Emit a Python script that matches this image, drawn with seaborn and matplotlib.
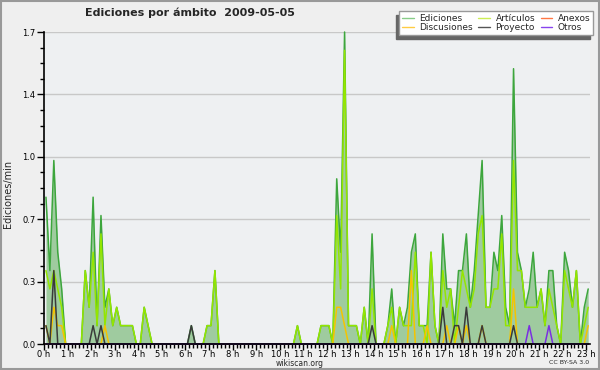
import numpy as np
import matplotlib
matplotlib.use("Agg")
import matplotlib.pyplot as plt
import seaborn as sns
from matplotlib.lines import Line2D
from matplotlib.patches import Rectangle
from matplotlib.ticker import FixedLocator, MultipleLocator

# Edits per minute, 10-minute bins, one row per hour (2009-05-05)
ediciones = [
    0.8, 0.4, 1.0, 0.5, 0.3, 0.0,   # 0 h
    0.0, 0.0, 0.0, 0.0, 0.4, 0.2,   # 1 h
    0.8, 0.1, 0.7, 0.2, 0.3, 0.1,   # 2 h
    0.2, 0.1, 0.1, 0.1, 0.1, 0.0,   # 3 h
    0.0, 0.2, 0.1, 0.0, 0.0, 0.0,   # 4 h
    0.0, 0.0, 0.0, 0.0, 0.0, 0.0,   # 5 h
    0.0, 0.1, 0.0, 0.0, 0.0, 0.1,   # 6 h
    0.1, 0.4, 0.0, 0.0, 0.0, 0.0,   # 7 h
    0.0, 0.0, 0.0, 0.0, 0.0, 0.0,   # 8 h
    0.0, 0.0, 0.0, 0.0, 0.0, 0.0,   # 9 h
    0.0, 0.0, 0.0, 0.0, 0.1, 0.0,   # 10 h
    0.0, 0.0, 0.0, 0.0, 0.1, 0.1,   # 11 h
    0.1, 0.0, 0.9, 0.5, 1.7, 0.1,   # 12 h
    0.1, 0.1, 0.0, 0.2, 0.0, 0.6,   # 13 h
    0.0, 0.0, 0.0, 0.1, 0.3, 0.0,   # 14 h
    0.2, 0.1, 0.2, 0.5, 0.6, 0.1,   # 15 h
    0.1, 0.1, 0.5, 0.1, 0.0, 0.6,   # 16 h
    0.3, 0.3, 0.1, 0.4, 0.4, 0.6,   # 17 h
    0.2, 0.4, 0.7, 1.0, 0.2, 0.2,   # 18 h
    0.5, 0.4, 0.7, 0.2, 0.1, 1.5,   # 19 h
    0.5, 0.4, 0.2, 0.3, 0.5, 0.2,   # 20 h
    0.3, 0.1, 0.4, 0.4, 0.1, 0.0,   # 21 h
    0.5, 0.4, 0.2, 0.4, 0.0, 0.2,   # 22 h
    0.3,                            # 23 h
]

articulos = [
    0.4, 0.3, 0.4, 0.3, 0.2, 0.0,
    0.0, 0.0, 0.0, 0.0, 0.4, 0.2,
    0.5, 0.1, 0.6, 0.1, 0.3, 0.1,
    0.2, 0.1, 0.1, 0.1, 0.1, 0.0,
    0.0, 0.2, 0.1, 0.0, 0.0, 0.0,
    0.0, 0.0, 0.0, 0.0, 0.0, 0.0,
    0.0, 0.0, 0.0, 0.0, 0.0, 0.1,
    0.1, 0.4, 0.0, 0.0, 0.0, 0.0,
    0.0, 0.0, 0.0, 0.0, 0.0, 0.0,
    0.0, 0.0, 0.0, 0.0, 0.0, 0.0,
    0.0, 0.0, 0.0, 0.0, 0.1, 0.0,
    0.0, 0.0, 0.0, 0.0, 0.1, 0.1,
    0.1, 0.0, 0.7, 0.3, 1.6, 0.1,
    0.1, 0.1, 0.0, 0.2, 0.0, 0.3,
    0.0, 0.0, 0.0, 0.1, 0.2, 0.0,
    0.2, 0.1, 0.1, 0.1, 0.5, 0.1,
    0.1, 0.0, 0.5, 0.1, 0.0, 0.4,
    0.2, 0.3, 0.0, 0.2, 0.4, 0.3,
    0.2, 0.3, 0.6, 0.7, 0.2, 0.2,
    0.3, 0.3, 0.6, 0.1, 0.1, 1.0,
    0.4, 0.4, 0.2, 0.2, 0.2, 0.2,
    0.3, 0.1, 0.3, 0.2, 0.1, 0.0,
    0.4, 0.3, 0.2, 0.4, 0.0, 0.1,
    0.2,
]

# sparse series: bin number -> value
disc_bins = [0, 2, 3, 4, 15, 74, 75, 76, 88, 93, 97, 102, 105, 107, 111, 119, 138]
disc_vals = [0.1, 0.2, 0.1, 0.1, 0.1, 0.2, 0.2, 0.1, 0.1, 0.4, 0.1, 0.1, 0.1, 0.1, 0.1, 0.3, 0.1]
proy_bins = [0, 2, 12, 14, 37, 83, 101, 104, 105, 107, 111, 119]
proy_vals = [0.1, 0.4, 0.1, 0.1, 0.1, 0.1, 0.2, 0.1, 0.1, 0.2, 0.1, 0.1]
otros_bins = [123, 128]
otros_vals = [0.1, 0.1]
anexos_bins = []
anexos_vals = []

hour_labels = [f"{h} h" for h in range(24)]
y_max = 1.7

n = len(ediciones)
hours = (np.arange(n) + 0.5) / 6


def sparse(bins, vals):
    s = np.zeros(n)
    s[bins] = vals
    return s


discusiones = sparse(disc_bins, disc_vals)
proyecto = sparse(proy_bins, proy_vals)
otros = sparse(otros_bins, otros_vals)
anexos = sparse(anexos_bins, anexos_vals)

sns.set_style("white")
plt.rcParams["font.family"] = ["DejaVu Sans"]

fig = plt.figure(figsize=(6, 3.7), dpi=100, facecolor="#efefef")
ax = fig.add_axes([44 / 600, 26 / 370, 546 / 600, 312 / 370])
ax.set_facecolor("#eef0f2")

ax.fill_between(hours, ediciones, color="#9fcb9f", lw=0, zorder=2)
series = [
    (ediciones, "#3da63d"),
    (articulos, "#94e600"),
    (anexos, "#ff7744"),
    (discusiones, "#f5c400"),
    (proyecto, "#3a3a3a"),
    (otros, "#7a30e0"),
]
for vals, col in series:
    sns.lineplot(x=hours, y=vals, color=col, lw=1.1, ax=ax, legend=False,
                 zorder=3, clip_on=False)

ax.set_xlim(0, 23.16)
ax.set_ylim(0, y_max)
yt = np.linspace(0, y_max, 6)
ax.yaxis.set_major_locator(FixedLocator(yt))
ax.set_yticklabels([f"{v:.1f}" for v in yt])
ax.yaxis.set_minor_locator(MultipleLocator(y_max / 20))
ax.set_xticks(range(24))
ax.set_xticklabels(hour_labels)
ax.xaxis.set_minor_locator(MultipleLocator(1 / 6))
ax.yaxis.grid(True, color="#c8c8c8", lw=1)
ax.set_axisbelow(True)

for s in ["top", "right"]:
    ax.spines[s].set_visible(False)
for s in ["left", "bottom"]:
    ax.spines[s].set_color("black")
    ax.spines[s].set_linewidth(1.2)
    ax.spines[s].set_zorder(4)

ax.tick_params(axis="both", which="both", bottom=True, left=True,
               direction="out", colors="black", width=1)
ax.tick_params(axis="x", which="major", length=4, pad=0, labelsize=6)
ax.tick_params(axis="x", which="minor", length=3)
ax.tick_params(axis="y", which="major", length=5, pad=1, labelsize=6)
ax.tick_params(axis="y", which="minor", length=3)
ax.set_xlabel("")
ax.set_ylabel("")

fig.text(8 / 600, 1 - 194 / 370, "Ediciones/min", rotation=90,
         ha="center", va="center", fontsize=7)
fig.text(85 / 600, 1 - 13 / 370, "Ediciones por ámbito  2009-05-05",
         ha="left", va="center", fontsize=8, fontweight="bold")
fig.text(300 / 600, 1 - 363.5 / 370, "wikiscan.org", ha="center",
         va="center", fontsize=5.5)
fig.text(589 / 600, 1 - 363 / 370, "CC BY-SA 3.0", ha="right",
         va="center", fontsize=4.5)

leg_labels = ["Ediciones", "Discusiones", "Artículos", "Proyecto", "Anexos", "Otros"]
leg_colors = ["#88cc88", "#ffcc44", "#ccee55", "#555555", "#ff7744", "#8844ee"]
handles = [Line2D([], [], color=c, lw=1) for c in leg_colors]
leg = fig.legend(handles, leg_labels, ncol=3, loc="upper right",
                 bbox_to_anchor=(593 / 600, 1 - 11 / 370), fontsize=6.5,
                 frameon=True, fancybox=False, handlelength=1.3,
                 handletextpad=0.6, columnspacing=0.6, labelspacing=0.05,
                 borderpad=0.3, borderaxespad=0)
leg.get_frame().set_facecolor("white")
leg.get_frame().set_edgecolor("#999999")
leg.get_frame().set_alpha(1)

# drop shadow to the lower left of the legend box
fig.canvas.draw()
bb = leg.get_window_extent()
inv = fig.transFigure.inverted()
(x0, y0), (x1, y1) = inv.transform([[bb.x0 - 3, bb.y0 - 4], [bb.x1 - 3, bb.y1 - 4]])
fig.patches.append(Rectangle((x0, y0), x1 - x0, y1 - y0, transform=fig.transFigure,
                             color="#666666", zorder=4))
fig.patches.append(Rectangle((0.001, 0.002), 0.997, 0.996, transform=fig.transFigure,
                             fill=False, edgecolor="#999999", lw=1.5, zorder=6))

fig.savefig("out.png", dpi=100, facecolor=fig.get_facecolor())
